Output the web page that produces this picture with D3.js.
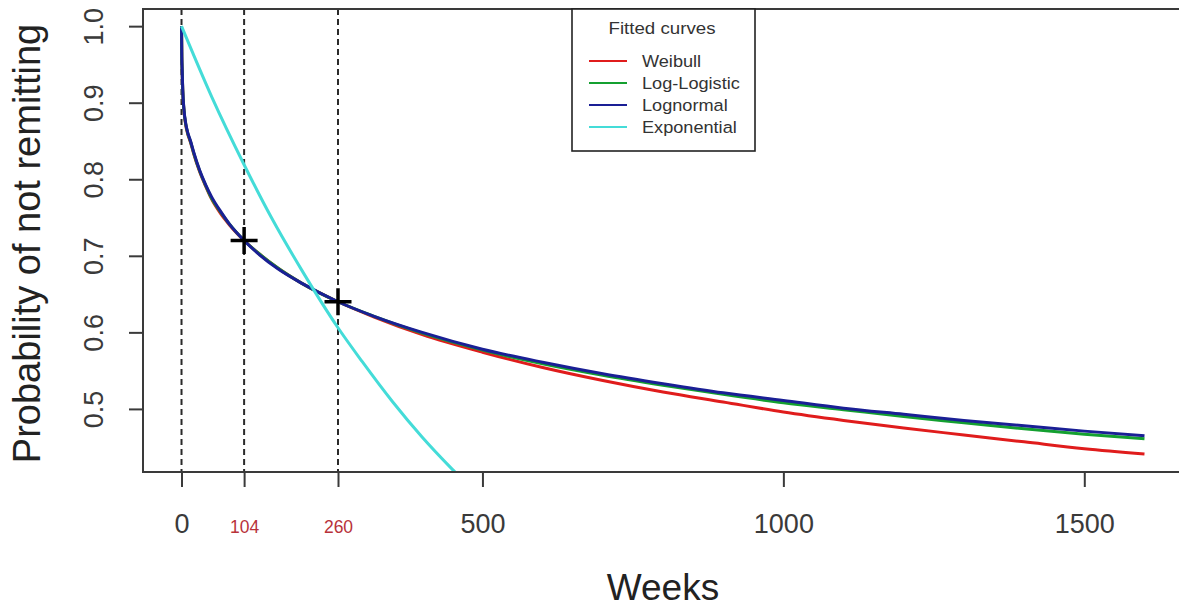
<!DOCTYPE html>
<html>
<head>
<meta charset="utf-8">
<script src="https://cdn.jsdelivr.net/npm/d3@7/dist/d3.min.js"></script>
<style>
html,body{margin:0;padding:0;background:#fff;}
svg{display:block;font-family:Arial,"Liberation Sans",sans-serif;}
</style>
</head>
<body>
<svg id="chart" width="1179" height="610"></svg>
<script>
// ---- data ----
const weeks = [0,0.5,1,2,4,7,10,15,20,30,40,50,65,80,104,130,160,200,260,320,400,500,600,700,800,900,1000,1100,1200,1300,1400,1500,1600];
const weibull = [1.000,0.958,0.943,0.916,0.890,0.871,0.860,0.848,0.834,0.810,0.791,0.774,0.755,0.740,0.720,0.702,0.684,0.664,0.640,0.620,0.597,0.574,0.554,0.537,0.522,0.509,0.496,0.485,0.475,0.466,0.457,0.448,0.441];
const logLogistic = [1.000,0.959,0.944,0.917,0.891,0.872,0.861,0.849,0.835,0.811,0.792,0.775,0.757,0.741,0.720,0.702,0.684,0.664,0.640,0.621,0.599,0.577,0.559,0.544,0.531,0.519,0.508,0.499,0.490,0.482,0.474,0.467,0.461];
const lognormal = [1.000,0.960,0.945,0.918,0.892,0.873,0.862,0.850,0.836,0.812,0.793,0.777,0.758,0.741,0.720,0.701,0.683,0.664,0.640,0.621,0.600,0.578,0.561,0.546,0.533,0.521,0.511,0.501,0.493,0.485,0.478,0.471,0.465];
const expWeeks = [0,50,104,150,200,260,300,350,400,450,500,550];
const exponential = [1.000,0.908,0.819,0.749,0.681,0.606,0.562,0.510,0.463,0.421,0.382,0.347];
const seriesNames = ["Weibull","Log-Logistic","Lognormal","Exponential"];
const seriesColors = ["#e01c1c","#14a030","#1a1f95","#44dcd8"];
const refWeeks = [0,104,260];
const markWeeks = [104,260];
const markValues = [0.72,0.64];
const xTicks = [0,500,1000,1500];
const xTickLabels = ["0","500","1000","1500"];
const xRefTicks = [104,260];
const xRefTickLabels = ["104","260"];
const yTicks = [0.5,0.6,0.7,0.8,0.9,1.0];
const yTickLabels = ["0.5","0.6","0.7","0.8","0.9","1.0"];
const xTitle = "Weeks";
const yTitle = "Probability of not remitting";
const legendTitle = "Fitted curves";

// ---- layout ----
const svg = d3.select("#chart");
const L = 143, R = 1183, T = 9, B = 472;
const x = d3.scaleLinear().domain([-64,1664]).range([L,R]);
const y = d3.scaleLinear().domain([0.4176,1.0224]).range([B,T]);

svg.append("defs").append("clipPath").attr("id","plotclip")
  .append("rect").attr("x",L).attr("y",T).attr("width",R-L).attr("height",B-T);

// reference dashed lines
svg.append("g").selectAll("line").data(refWeeks).join("line")
  .attr("x1",d=>x(d)).attr("x2",d=>x(d)).attr("y1",T).attr("y2",B)
  .attr("stroke","#2a2a2a").attr("stroke-width",2).attr("stroke-dasharray","6,4");

// curves
const plot = svg.append("g").attr("clip-path","url(#plotclip)");
const line = d3.line().x(d=>x(d[0])).y(d=>y(d[1])).curve(d3.curveMonotoneX);
const seriesData = [
  weeks.map((w,i)=>[w,weibull[i]]),
  weeks.map((w,i)=>[w,logLogistic[i]]),
  weeks.map((w,i)=>[w,lognormal[i]]),
  expWeeks.map((w,i)=>[w,exponential[i]])
];
seriesData.forEach((s,i)=>{
  plot.append("path").datum(s).attr("d",line)
    .attr("fill","none").attr("stroke",seriesColors[i]).attr("stroke-width",3)
    .attr("stroke-linejoin","round");
});

// crosses
const cs = 13.5;
const crosses = svg.append("g");
markWeeks.forEach((w,i)=>{
  const cx = x(w), cy = y(markValues[i]);
  crosses.append("line").attr("x1",cx-cs).attr("x2",cx+cs).attr("y1",cy).attr("y2",cy)
    .attr("stroke","#000").attr("stroke-width",3.5);
  crosses.append("line").attr("x1",cx).attr("x2",cx).attr("y1",cy-cs).attr("y2",cy+cs)
    .attr("stroke","#000").attr("stroke-width",3.5);
});

// box
svg.append("rect").attr("x",L).attr("y",T).attr("width",R-L).attr("height",B-T)
  .attr("fill","none").attr("stroke","#3a3a3a").attr("stroke-width",2);

// y axis
const yAxis = svg.append("g").attr("transform",`translate(${L},0)`)
  .call(d3.axisLeft(y).tickValues(yTicks).tickSize(14).tickFormat((d,i)=>yTickLabels[i]));
yAxis.select(".domain").remove();
yAxis.selectAll(".tick line").attr("stroke","#3a3a3a").attr("stroke-width",2);
yAxis.selectAll(".tick text")
  .attr("x",null).attr("dy",null)
  .attr("transform","translate(-40,0) rotate(-90)")
  .attr("text-anchor","middle").attr("y",0)
  .attr("font-size",27).attr("fill","#3a3a3a").attr("font-family","Arial, 'Liberation Sans', sans-serif");

// x axis
const xAxis = svg.append("g").attr("transform",`translate(0,${B})`)
  .call(d3.axisBottom(x).tickValues(xTicks).tickSize(15).tickFormat((d,i)=>xTickLabels[i]));
xAxis.select(".domain").remove();
xAxis.selectAll(".tick line").attr("stroke","#3a3a3a").attr("stroke-width",2);
xAxis.selectAll(".tick text").attr("y",61).attr("dy",null)
  .attr("font-size",27).attr("fill","#3a3a3a").attr("font-family","Arial, 'Liberation Sans', sans-serif");

const xAxis2 = svg.append("g").attr("transform",`translate(0,${B})`)
  .call(d3.axisBottom(x).tickValues(xRefTicks).tickSize(15).tickFormat((d,i)=>xRefTickLabels[i]));
xAxis2.select(".domain").remove();
xAxis2.selectAll(".tick line").attr("stroke","#3a3a3a").attr("stroke-width",2);
xAxis2.selectAll(".tick text").attr("y",61).attr("dy",null)
  .attr("font-size",17.5).attr("fill","#b8323a").attr("font-family","Arial, 'Liberation Sans', sans-serif");

// axis titles
svg.append("text").attr("x",(L+R)/2).attr("y",600).attr("text-anchor","middle")
  .attr("font-size",37).attr("fill","#222").text(xTitle);
svg.append("text").attr("transform",`translate(40,${(T+B)/2+3}) rotate(-90)`)
  .attr("text-anchor","middle").attr("font-size",38).attr("fill","#222").text(yTitle);

// legend
const lg = svg.append("g");
lg.append("rect").attr("x",572).attr("y",T).attr("width",183).attr("height",142)
  .attr("fill","#fff").attr("stroke","#222").attr("stroke-width",1.6);
lg.append("text").attr("transform","translate(662,34) scale(1.1,1)").attr("text-anchor","middle")
  .attr("font-size",17).attr("fill","#333").text(legendTitle);
seriesNames.forEach((n,i)=>{
  const ly = 61 + i*22;
  lg.append("line").attr("x1",589).attr("x2",627).attr("y1",ly).attr("y2",ly)
    .attr("stroke",seriesColors[i]).attr("stroke-width",2);
  lg.append("text").attr("transform",`translate(642,${ly+6}) scale(1.1,1)`)
    .attr("font-size",16.5).attr("fill","#333").text(n);
});
</script>
</body>
</html>
